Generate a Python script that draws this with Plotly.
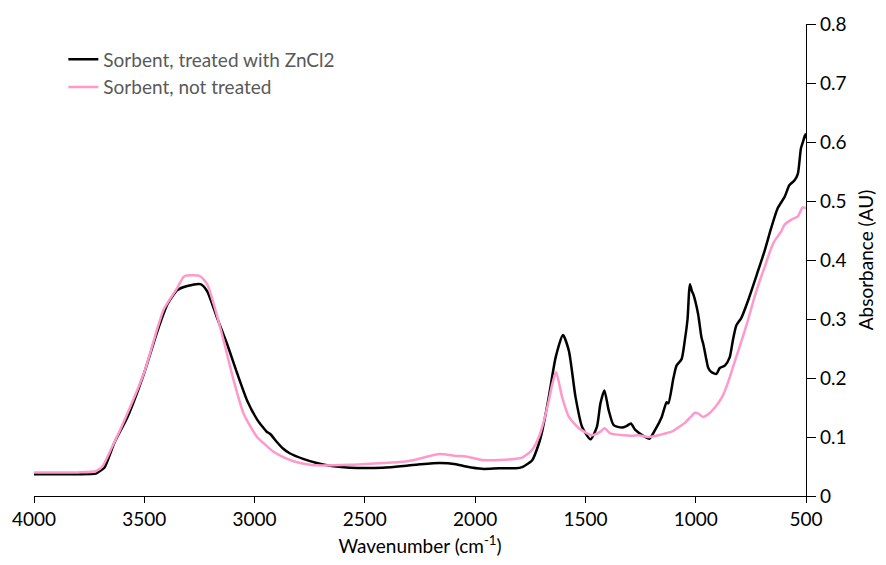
import plotly.graph_objects as go

# Sorbent treated with ZnCl2 (black)
wn_treated = [4000, 3800, 3720, 3711, 3681, 3636, 3576, 3501, 3440, 3395, 3350, 3305, 3245, 3215,
              3170, 3125, 3079, 3034, 2989, 2961, 2945, 2929, 2900, 2870, 2839, 2780, 2718, 2650,
              2568, 2419, 2267, 2162, 2087, 2041, 1968, 1891, 1816, 1787, 1756, 1742, 1711, 1696,
              1666, 1635, 1602, 1575, 1545, 1515, 1477, 1448, 1432, 1414, 1395, 1372, 1335, 1312,
              1294, 1274, 1229, 1210, 1184, 1154, 1132, 1124, 1101, 1087, 1064, 1049, 1037, 1030,
              1026, 1018, 1011, 989, 974, 966, 951, 944, 929, 906, 891, 868, 846, 831, 816, 793,
              763, 718, 688, 658, 628, 597, 575, 552, 537, 523, 510, 505, 502, 500]
abs_treated = [0.037, 0.037, 0.038, 0.040, 0.048, 0.090, 0.134, 0.208, 0.280, 0.325, 0.349, 0.356,
               0.359, 0.347, 0.302, 0.258, 0.208, 0.162, 0.130, 0.116, 0.109, 0.105, 0.092, 0.080,
               0.072, 0.063, 0.056, 0.051, 0.048, 0.048, 0.053, 0.056, 0.054, 0.050, 0.046, 0.047,
               0.047, 0.049, 0.056, 0.060, 0.089, 0.110, 0.168, 0.235, 0.273, 0.246, 0.168, 0.117,
               0.096, 0.117, 0.157, 0.179, 0.146, 0.120, 0.116, 0.119, 0.123, 0.112, 0.100, 0.097,
               0.112, 0.134, 0.159, 0.157, 0.200, 0.221, 0.232, 0.265, 0.300, 0.347, 0.359, 0.348,
               0.342, 0.308, 0.269, 0.258, 0.230, 0.218, 0.210, 0.207, 0.217, 0.221, 0.235, 0.265,
               0.289, 0.302, 0.331, 0.381, 0.415, 0.454, 0.488, 0.507, 0.527, 0.535, 0.546, 0.589,
               0.605, 0.612, 0.608, 0.615]

# Sorbent not treated (pink)
wn_untreated = [4000, 3800, 3720, 3690, 3650, 3600, 3500, 3440, 3411, 3350, 3320, 3280, 3245, 3215,
                3185, 3140, 3095, 3050, 2989, 2961, 2914, 2870, 2823, 2749, 2718, 2568, 2419, 2342,
                2267, 2162, 2087, 2041, 1968, 1891, 1816, 1787, 1742, 1711, 1696, 1666, 1650, 1633,
                1606, 1575, 1530, 1470, 1432, 1413, 1387, 1290, 1259, 1214, 1160, 1109, 1064, 1049,
                1020, 1004, 990, 966, 945, 913, 880, 853, 823, 793, 763, 733, 700, 688, 660, 643,
                613, 597, 568, 537, 515, 500]
abs_untreated = [0.040, 0.040, 0.042, 0.050, 0.080, 0.120, 0.210, 0.285, 0.317, 0.353, 0.372, 0.374,
                 0.372, 0.359, 0.325, 0.263, 0.196, 0.140, 0.100, 0.090, 0.075, 0.066, 0.059, 0.053,
                 0.052, 0.053, 0.056, 0.0575, 0.062, 0.071, 0.068, 0.067, 0.061, 0.061, 0.063, 0.065,
                 0.078, 0.100, 0.117, 0.162, 0.190, 0.210, 0.168, 0.134, 0.115, 0.103, 0.109, 0.115,
                 0.106, 0.102, 0.103, 0.100, 0.104, 0.109, 0.120, 0.124, 0.135, 0.141, 0.140, 0.134,
                 0.138, 0.150, 0.168, 0.193, 0.228, 0.262, 0.298, 0.338, 0.375, 0.387, 0.418, 0.432,
                 0.448, 0.460, 0.468, 0.474, 0.489, 0.488]

x_ticks = [4000, 3500, 3000, 2500, 2000, 1500, 1000, 500]
y_ticks = [0, 0.1, 0.2, 0.3, 0.4, 0.5, 0.6, 0.7, 0.8]

FONT = "Lato, Open Sans, sans-serif"
FS = 19

fig = go.Figure()
fig.add_trace(go.Scatter(x=wn_treated, y=abs_treated, mode="lines",
                         name="Sorbent, treated with ZnCl2",
                         line=dict(color="#000000", width=2.5, shape="spline", smoothing=0.6)))
fig.add_trace(go.Scatter(x=wn_untreated, y=abs_untreated, mode="lines",
                         name="Sorbent, not treated",
                         line=dict(color="#FF99CC", width=2.5, shape="spline", smoothing=0.6)))

fig.update_layout(
    width=886, height=565,
    margin=dict(l=33, r=78, t=21, b=69),
    paper_bgcolor="white", plot_bgcolor="white",
    font=dict(family=FONT, size=FS, color="#000000"),
    showlegend=True,
    legend=dict(x=0.038, y=0.965, xanchor="left", yanchor="top",
                font=dict(family=FONT, size=FS, color="#595959"),
                bgcolor="rgba(0,0,0,0)"),
    xaxis=dict(range=[4000, 500], tickvals=x_ticks, ticktext=[str(v) for v in x_ticks],
               showgrid=False, zeroline=False, showline=True, linecolor="#000000", linewidth=1.3,
               ticks="outside", ticklen=6, tickcolor="#000000", tickwidth=1.3,
               title=dict(text="Wavenumber (cm<sup>-1</sup>)", font=dict(size=FS), standoff=10),
               tickfont=dict(size=FS)),
    yaxis=dict(range=[0, 0.8], tickvals=y_ticks, ticktext=[("0" if v == 0 else f"{v:.1f}") for v in y_ticks],
               side="right",
               showgrid=False, zeroline=False, showline=True, linecolor="#000000", linewidth=1.3,
               ticks="outside", ticklen=9, tickcolor="#000000", tickwidth=1.3,
               title=dict(text="Absorbance (AU)", font=dict(size=FS), standoff=14),
               tickfont=dict(size=FS)),
)

fig.write_html("out.html")
